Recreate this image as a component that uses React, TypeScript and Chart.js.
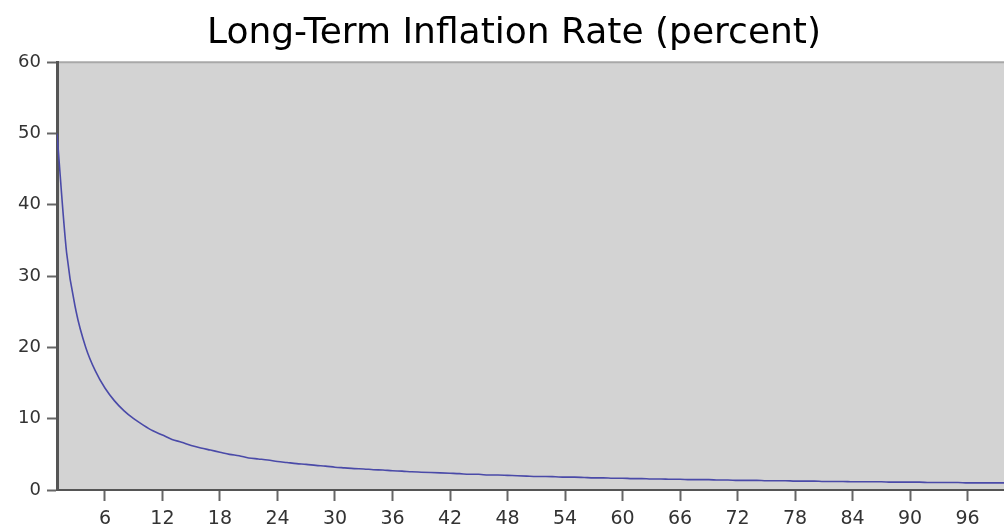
import React, { useEffect, useRef } from "react";
import { Chart, registerables } from "chart.js";

Chart.register(...registerables);

const TITLE = "Long-Term Inflation Rate (percent)";

const years: number[] = [
  1, 2, 3, 4, 5, 6, 7, 8, 9, 10, 11, 12, 13, 14, 15, 16, 17, 18, 19, 20,
  21, 22, 23, 24, 25, 26, 27, 28, 29, 30, 31, 32, 33, 34, 35, 36, 37, 38, 39, 40,
  41, 42, 43, 44, 45, 46, 47, 48, 49, 50, 51, 52, 53, 54, 55, 56, 57, 58, 59, 60,
  61, 62, 63, 64, 65, 66, 67, 68, 69, 70, 71, 72, 73, 74, 75, 76, 77, 78, 79, 80,
  81, 82, 83, 84, 85, 86, 87, 88, 89, 90, 91, 92, 93, 94, 95, 96, 97, 98, 99, 100,
];

const inflation: number[] = [
  50, 33.3, 25, 20, 16.7, 14.3, 12.5, 11.1, 10, 9.1,
  8.3, 7.7, 7.1, 6.7, 6.25, 5.9, 5.6, 5.3, 5.0, 4.8,
  4.5, 4.35, 4.2, 4.0, 3.85, 3.7, 3.6, 3.45, 3.35, 3.2,
  3.1, 3.0, 2.95, 2.85, 2.8, 2.7, 2.65, 2.55, 2.5, 2.45,
  2.4, 2.35, 2.3, 2.2, 2.2, 2.1, 2.1, 2.05, 2.0, 1.95,
  1.9, 1.9, 1.85, 1.8, 1.8, 1.75, 1.7, 1.7, 1.65, 1.65,
  1.6, 1.6, 1.55, 1.55, 1.5, 1.5, 1.45, 1.45, 1.45, 1.4,
  1.4, 1.35, 1.35, 1.35, 1.3, 1.3, 1.3, 1.25, 1.25, 1.25,
  1.2, 1.2, 1.2, 1.15, 1.15, 1.15, 1.15, 1.1, 1.1, 1.1,
  1.1, 1.05, 1.05, 1.05, 1.05, 1.0, 1.0, 1.0, 1.0, 1.0,
];

const xTicks: number[] = [6, 12, 18, 24, 30, 36, 42, 48, 54, 60, 66, 72, 78, 84, 90, 96];
const yTicks: number[] = [0, 10, 20, 30, 40, 50, 60];

const plotBg = {
  id: "plotBg",
  beforeDraw(chart: any) {
    const { ctx, chartArea: a } = chart;
    ctx.save();
    ctx.fillStyle = "#d3d3d3";
    ctx.fillRect(a.left, a.top, a.right - a.left, a.bottom - a.top);
    ctx.strokeStyle = "#a8a8a8";
    ctx.lineWidth = 2;
    ctx.beginPath();
    ctx.moveTo(a.left, a.top);
    ctx.lineTo(a.right, a.top);
    ctx.stroke();
    ctx.restore();
  },
};

export default function App() {
  const ref = useRef<HTMLCanvasElement | null>(null);
  useEffect(() => {
    if (!ref.current) return;
    const chart = new Chart(ref.current, {
      type: "line",
      data: {
        datasets: [
          {
            data: years.map((x, i) => ({ x, y: inflation[i] })),
            borderColor: "#4a4aa8",
            borderWidth: 1.6,
            pointRadius: 0,
            cubicInterpolationMode: "monotone",
            fill: false,
          },
        ],
      },
      options: {
        animation: false,
        responsive: false,
        maintainAspectRatio: false,
        layout: { padding: 0 },
        plugins: {
          legend: { display: false },
          tooltip: { enabled: false },
          title: {
            display: true,
            text: TITLE,
            color: "#000",
            font: { family: "DejaVu Sans", size: 36, weight: "normal", lineHeight: 1.2 },
            padding: { top: 12, bottom: 7 },
          },
        },
        scales: {
          x: {
            type: "linear",
            min: 1,
            max: 102.3,
            afterBuildTicks: (s: any) => {
              s.ticks = xTicks.map((v) => ({ value: v }));
            },
            afterFit: (s: any) => {
              s.height = 38;
            },
            ticks: {
              color: "#333",
              font: { family: "DejaVu Sans", size: 19 },
              padding: 7,
              maxRotation: 0,
              autoSkip: false,
            },
            grid: { drawOnChartArea: false, tickLength: 11, tickColor: "#666", tickWidth: 2 },
            border: { color: "#555", width: 2 },
          },
          y: {
            min: 0,
            max: 60,
            afterBuildTicks: (s: any) => {
              s.ticks = yTicks.map((v) => ({ value: v }));
            },
            afterFit: (s: any) => {
              s.width = 57;
            },
            ticks: {
              color: "#333",
              font: { family: "DejaVu Sans", size: 18 },
              padding: 6,
            },
            grid: { drawOnChartArea: false, tickLength: 10, tickColor: "#666", tickWidth: 2 },
            border: { color: "#555", width: 3 },
          },
        },
      },
      plugins: [plotBg],
    });
    return () => chart.destroy();
  }, []);
  return (
    <div
      style={{
        position: "fixed",
        left: 0,
        top: 0,
        width: 1004,
        height: 528,
        overflow: "hidden",
        background: "#fff",
      }}
    >
      <canvas ref={ref} width={1028} height={528} style={{ display: "block" }} />
    </div>
  );
}
